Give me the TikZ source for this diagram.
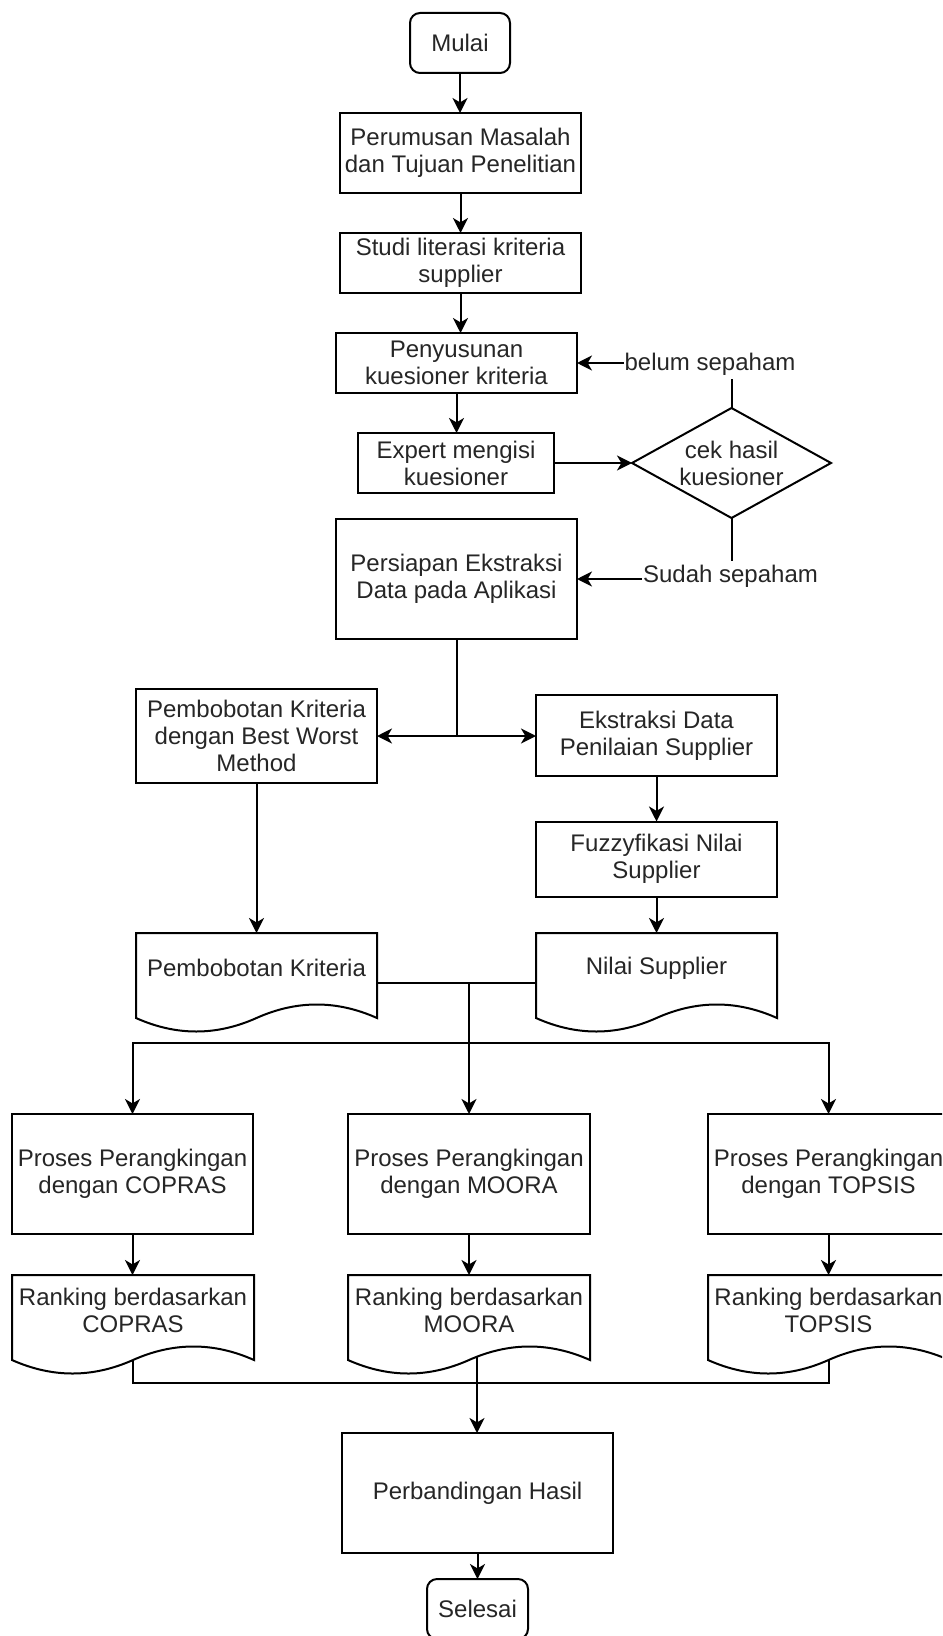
\documentclass[tikz,border=0pt]{standalone}
\usepackage{fontspec}
\setmainfont{Liberation Sans}
\usetikzlibrary{shapes.geometric,arrows.meta,calc}

% Document symbol: straight top and sides, wavy bottom edge.
% #1 = node name, #2 = width in drawing units
\newcommand{\docoutline}[2]{%
  \draw[flowline] (#1.north west) -- (#1.north east)
    -- ($(#1.north west)+(#2,85)$)
    .. controls ($(#1.north west)+({5*#2/6},67)$) and ($(#1.north west)+({2*#2/3},67)$) .. ($(#1.north west)+({#2/2},85)$)
    .. controls ($(#1.north west)+({#2/3},103)$) and ($(#1.north west)+({#2/6},103)$) .. ($(#1.north west)+(0,85)$)
    -- cycle;}

\tikzset{
  base/.style={draw=black, line width=1pt, text=black!85,
    font=\fontsize{12}{13.5}\selectfont, align=center,
    inner sep=0pt, outer sep=0pt},
  procbox/.style={base, rectangle},
  termbox/.style={base, rectangle, rounded corners=5pt},
  docnode/.style={base, draw=none, rectangle, anchor=north, minimum height=35pt},
  decision/.style={base, diamond, aspect=1.81},
  flowline/.style={line width=1pt, draw=black},
  tip/.tip={Stealth[length=7.5pt,width=7.5pt,inset=2.2pt]},
  flowarrow/.style={flowline, -tip},
  bothflow/.style={flowline, tip-tip},
  edgelabel/.style={fill=white, text=black!85,
    font=\fontsize{12}{13.5}\selectfont, inner xsep=0.5pt, inner ysep=2pt},
}

\begin{document}
\begin{tikzpicture}[x=0.5pt, y=-0.5pt]
\fill[white] (0,0) rectangle (942,1636);
\path[use as bounding box] (0,0) rectangle (942,1636);
\clip (0,0) rectangle (942,1636);

% ---- nodes ----
\node[termbox, minimum width=50pt, minimum height=30pt] (mulai) at (460,43) {Mulai};
\node[procbox, minimum width=120.5pt, minimum height=40pt] (perumusan) at (460.5,153) {Perumusan Masalah\\dan Tujuan Penelitian};
\node[procbox, minimum width=120.5pt, minimum height=30pt] (studi) at (460.5,263) {Studi literasi kriteria\\supplier};
\node[procbox, minimum width=120.5pt, minimum height=30pt] (penyusunan) at (456.5,363) {Penyusunan\\kuesioner kriteria};
\node[procbox, minimum width=98pt, minimum height=30pt] (expert) at (456,463) {Expert mengisi\\kuesioner};
\node[decision, minimum width=99.5pt, minimum height=55pt] (cek) at (731.5,463) {cek hasil\\kuesioner};
\node[procbox, minimum width=120.5pt, minimum height=60pt] (persiapan) at (456.5,579) {Persiapan Ekstraksi\\Data pada Aplikasi};
\node[procbox, minimum width=120.5pt, minimum height=47pt] (bwm) at (256.5,736) {Pembobotan Kriteria\\dengan Best Worst\\Method};
\node[procbox, minimum width=120.5pt, minimum height=40.5pt] (ekstraksi) at (656.5,735.5) {Ekstraksi Data\\Penilaian Supplier};
\node[procbox, minimum width=120.5pt, minimum height=37.5pt] (fuzzy) at (656.5,859) {Fuzzyfikasi Nilai\\Supplier};
\node[docnode, minimum width=120.5pt] (pkdoc) at (256.5,933) {Pembobotan Kriteria};
\node[docnode, minimum width=120.5pt] (nilaidoc) at (656.5,933) {Nilai Supplier};
\node[procbox, minimum width=120.5pt, minimum height=60pt] (copras) at (132.5,1174) {Proses Perangkingan\\dengan COPRAS};
\node[procbox, minimum width=121pt, minimum height=60pt] (moora) at (469,1174) {Proses Perangkingan\\dengan MOORA};
\node[procbox, minimum width=120.5pt, minimum height=60pt] (topsis) at (828.5,1174) {Proses Perangkingan\\dengan TOPSIS};
\node[docnode, minimum width=121pt] (rcopras) at (133,1275) {Ranking berdasarkan\\COPRAS};
\node[docnode, minimum width=121pt] (rmoora) at (469,1275) {Ranking berdasarkan\\MOORA};
\node[docnode, minimum width=120.5pt] (rtopsis) at (828.5,1275) {Ranking berdasarkan\\TOPSIS};
\node[procbox, minimum width=135.5pt, minimum height=60pt] (perbandingan) at (477.5,1493) {Perbandingan Hasil};
\node[termbox, minimum width=50.5pt, minimum height=30pt] (selesai) at (477.5,1609) {Selesai};

% document outlines
\docoutline{pkdoc}{241}
\docoutline{nilaidoc}{241}
\docoutline{rcopras}{242}
\docoutline{rmoora}{242}
\docoutline{rtopsis}{241}

% ---- connectors: upper chain ----
\draw[flowarrow] (mulai.south) -- (mulai.south |- perumusan.north);
\draw[flowarrow] (perumusan.south) -- (perumusan.south |- studi.north);
\draw[flowarrow] (studi.south) -- (studi.south |- penyusunan.north);
\draw[flowarrow] (penyusunan.south) -- (penyusunan.south |- expert.north);
\draw[flowarrow] (expert.east) -- (expert.east -| cek.west);
\draw[flowarrow] (cek.north) |- (penyusunan.east);
\draw[flowarrow] (cek.south) |- (persiapan.east);
\node[edgelabel] (belum) at (710,364) {belum sepaham};
\node[edgelabel] (sudah) at (730.5,576) {Sudah sepaham};

% ---- split into the two branches ----
\coordinate (split) at (persiapan.south |- bwm.east);
\draw[flowline] (persiapan.south) -- (split);
\draw[bothflow] (bwm.east) -- (bwm.east -| ekstraksi.west);
\draw[flowarrow] (bwm.south) -- (bwm.south |- pkdoc.north);
\draw[flowarrow] (ekstraksi.south) -- (ekstraksi.south |- fuzzy.north);
\draw[flowarrow] (fuzzy.south) -- (fuzzy.south |- nilaidoc.north);

% ---- both documents feed the three ranking methods ----
\coordinate (pkright) at ($(pkdoc.north east)+(0,50)$);
\coordinate (nilaileft) at ($(nilaidoc.north west)+(0,50)$);
\draw[flowline] (pkright) -- (nilaileft);
\coordinate (merge) at (moora.north |- pkright);
\coordinate (fan) at (469,1043);
\draw[flowarrow] (merge) -- (moora.north);
\draw[flowarrow] (fan) -| (copras.north);
\draw[flowarrow] (fan) -| (topsis.north);

\draw[flowarrow] (copras.south) -- (copras.south |- rcopras.north);
\draw[flowarrow] (moora.south) -- (moora.south |- rmoora.north);
\draw[flowarrow] (topsis.south) -- (topsis.south |- rtopsis.north);

% ---- rankings gathered into the comparison ----
\coordinate (rcb) at ($(rcopras.north)+(0,86)$);
\coordinate (rtb) at ($(rtopsis.north)+(0,85)$);
\coordinate (rmb) at ($(rmoora.north)+(8,81.5)$);
\coordinate (gather) at (477,1383);
\draw[flowline] (rcb) |- (gather);
\draw[flowline] (rtb) |- (gather);
\draw[flowarrow] (rmb) -- (rmb |- perbandingan.north);
\draw[flowarrow] (perbandingan.south) -- (perbandingan.south |- selesai.north);
\end{tikzpicture}
\end{document}
